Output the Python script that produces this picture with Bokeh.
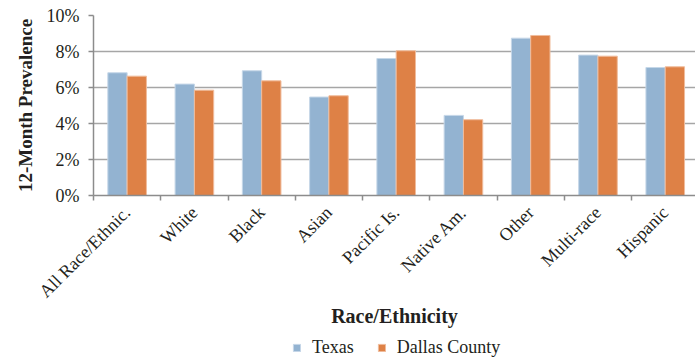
from bokeh.plotting import figure
from bokeh.layouts import column
from bokeh.models import (FixedTicker, NumeralTickFormatter, Range1d,
                          Legend, LegendItem, ColumnDataSource)
from bokeh.embed import file_html
from bokeh.resources import INLINE
from bokeh.transform import dodge
import math

# 12-month prevalence by race/ethnicity (fractions)
groups = ["All Race/Ethnic.", "White", "Black", "Asian", "Pacific Is.",
          "Native Am.", "Other", "Multi-race", "Hispanic"]
texas = [0.0682, 0.0619, 0.0693, 0.0547, 0.0761, 0.0445, 0.0874, 0.0780, 0.0711]
dallas = [0.0663, 0.0585, 0.0637, 0.0554, 0.0804, 0.0421, 0.0889, 0.0774, 0.0715]
y_ticks = [0.0, 0.02, 0.04, 0.06, 0.08, 0.10]

FONT = "Liberation Serif"
TEXT = "#231f20"
AXIS = "#8c8c8c"
GRID = "#a6a6a6"
BLUE = "#93b3d1"
ORANGE = "#de8146"
BLUE_EDGE = "#c6d7e8"
ORANGE_EDGE = "#f0bc9c"

pos = list(range(len(groups)))
src = ColumnDataSource(dict(x=pos, texas=texas, dallas=dallas))

p = figure(width=695, height=337, output_backend="svg", toolbar_location=None,
           x_range=Range1d(-0.5, len(groups) - 0.55), y_range=Range1d(0, 0.10),
           min_border_left=93, min_border_right=0, min_border_top=15,
           min_border_bottom=142)
p.outline_line_color = None

bw = 0.287
p.vbar(x=dodge("x", -bw / 2), top="texas", width=bw, source=src,
       fill_color=BLUE, line_color=BLUE_EDGE, line_width=1)
p.vbar(x=dodge("x", bw / 2), top="dallas", width=bw, source=src,
       fill_color=ORANGE, line_color=ORANGE_EDGE, line_width=1)

# y axis
yax = p.yaxis[0]
yax.ticker = FixedTicker(ticks=y_ticks)
yax.formatter = NumeralTickFormatter(format="0%")
yax.axis_line_color = AXIS
yax.axis_line_width = 1.5
yax.major_tick_line_color = AXIS
yax.major_tick_line_width = 1.5
yax.major_tick_in = 0
yax.major_tick_out = 5
yax.minor_tick_line_color = None
yax.major_label_standoff = 9
yax.major_label_text_font = FONT
yax.major_label_text_font_size = "18px"
yax.major_label_text_color = TEXT
yax.axis_label = "12-Month Prevalence"
yax.axis_label_text_font = FONT
yax.axis_label_text_font_size = "19px"
yax.axis_label_text_font_style = "bold"
yax.axis_label_text_color = TEXT
yax.axis_label_standoff = 8

# x axis: labels at group centres, tick marks at group boundaries
xax = p.xaxis[0]
xax.ticker = FixedTicker(ticks=pos, minor_ticks=[i - 0.5 for i in range(len(groups) + 1)])
xax.major_label_overrides = {i: g for i, g in enumerate(groups)}
xax.major_label_orientation = math.pi / 4
xax.major_label_text_font = FONT
xax.major_label_text_font_size = "18px"
xax.major_label_text_color = TEXT
xax.major_label_standoff = 9
xax.axis_line_color = AXIS
xax.axis_line_width = 1.5
xax.major_tick_line_color = None
xax.major_tick_out = 5
xax.major_tick_in = 0
xax.minor_tick_line_color = AXIS
xax.minor_tick_line_width = 1.5
xax.minor_tick_out = 5
xax.minor_tick_in = 0
xax.axis_label = "Race/Ethnicity"
xax.axis_label_text_font = FONT
xax.axis_label_text_font_size = "20px"
xax.axis_label_text_font_style = "bold"
xax.axis_label_text_color = TEXT
xax.axis_label_standoff = -6

p.xgrid.grid_line_color = None
p.ygrid.ticker = FixedTicker(ticks=y_ticks)
p.ygrid.grid_line_color = GRID
p.ygrid.grid_line_width = 1.5

# legend strip underneath the chart (its frame lines up with the chart's frame)
leg = figure(width=695, height=21, output_backend="svg", toolbar_location=None,
             x_axis_type=None, y_axis_type=None, min_border=0,
             x_range=Range1d(0, 1), y_range=Range1d(0, 1))
leg.outline_line_color = None
leg.xgrid.grid_line_color = None
leg.ygrid.grid_line_color = None
# swatch renderers sit outside the visible range; only their legend keys show
swatch = ColumnDataSource(dict(x=[5.0], top=[1.0]))
k_tx = leg.vbar(x="x", top="top", width=0.1, source=swatch,
                fill_color=BLUE, line_color=BLUE_EDGE, line_width=1)
k_dc = leg.vbar(x="x", top="top", width=0.1, source=swatch,
                fill_color=ORANGE, line_color=ORANGE_EDGE, line_width=1)
legend = Legend(items=[LegendItem(label="Texas", renderers=[k_tx]),
                       LegendItem(label="Dallas County", renderers=[k_dc])],
                orientation="horizontal", location=(199, 0),
                glyph_width=9, glyph_height=9, label_standoff=11, spacing=23,
                padding=0, margin=0, border_line_color=None,
                background_fill_alpha=0, label_text_font=FONT,
                label_text_font_size="18px", label_text_color=TEXT)
leg.add_layout(legend, "center")

layout = column(p, leg, spacing=0)
open("out.html", "w").write(file_html(layout, INLINE))
